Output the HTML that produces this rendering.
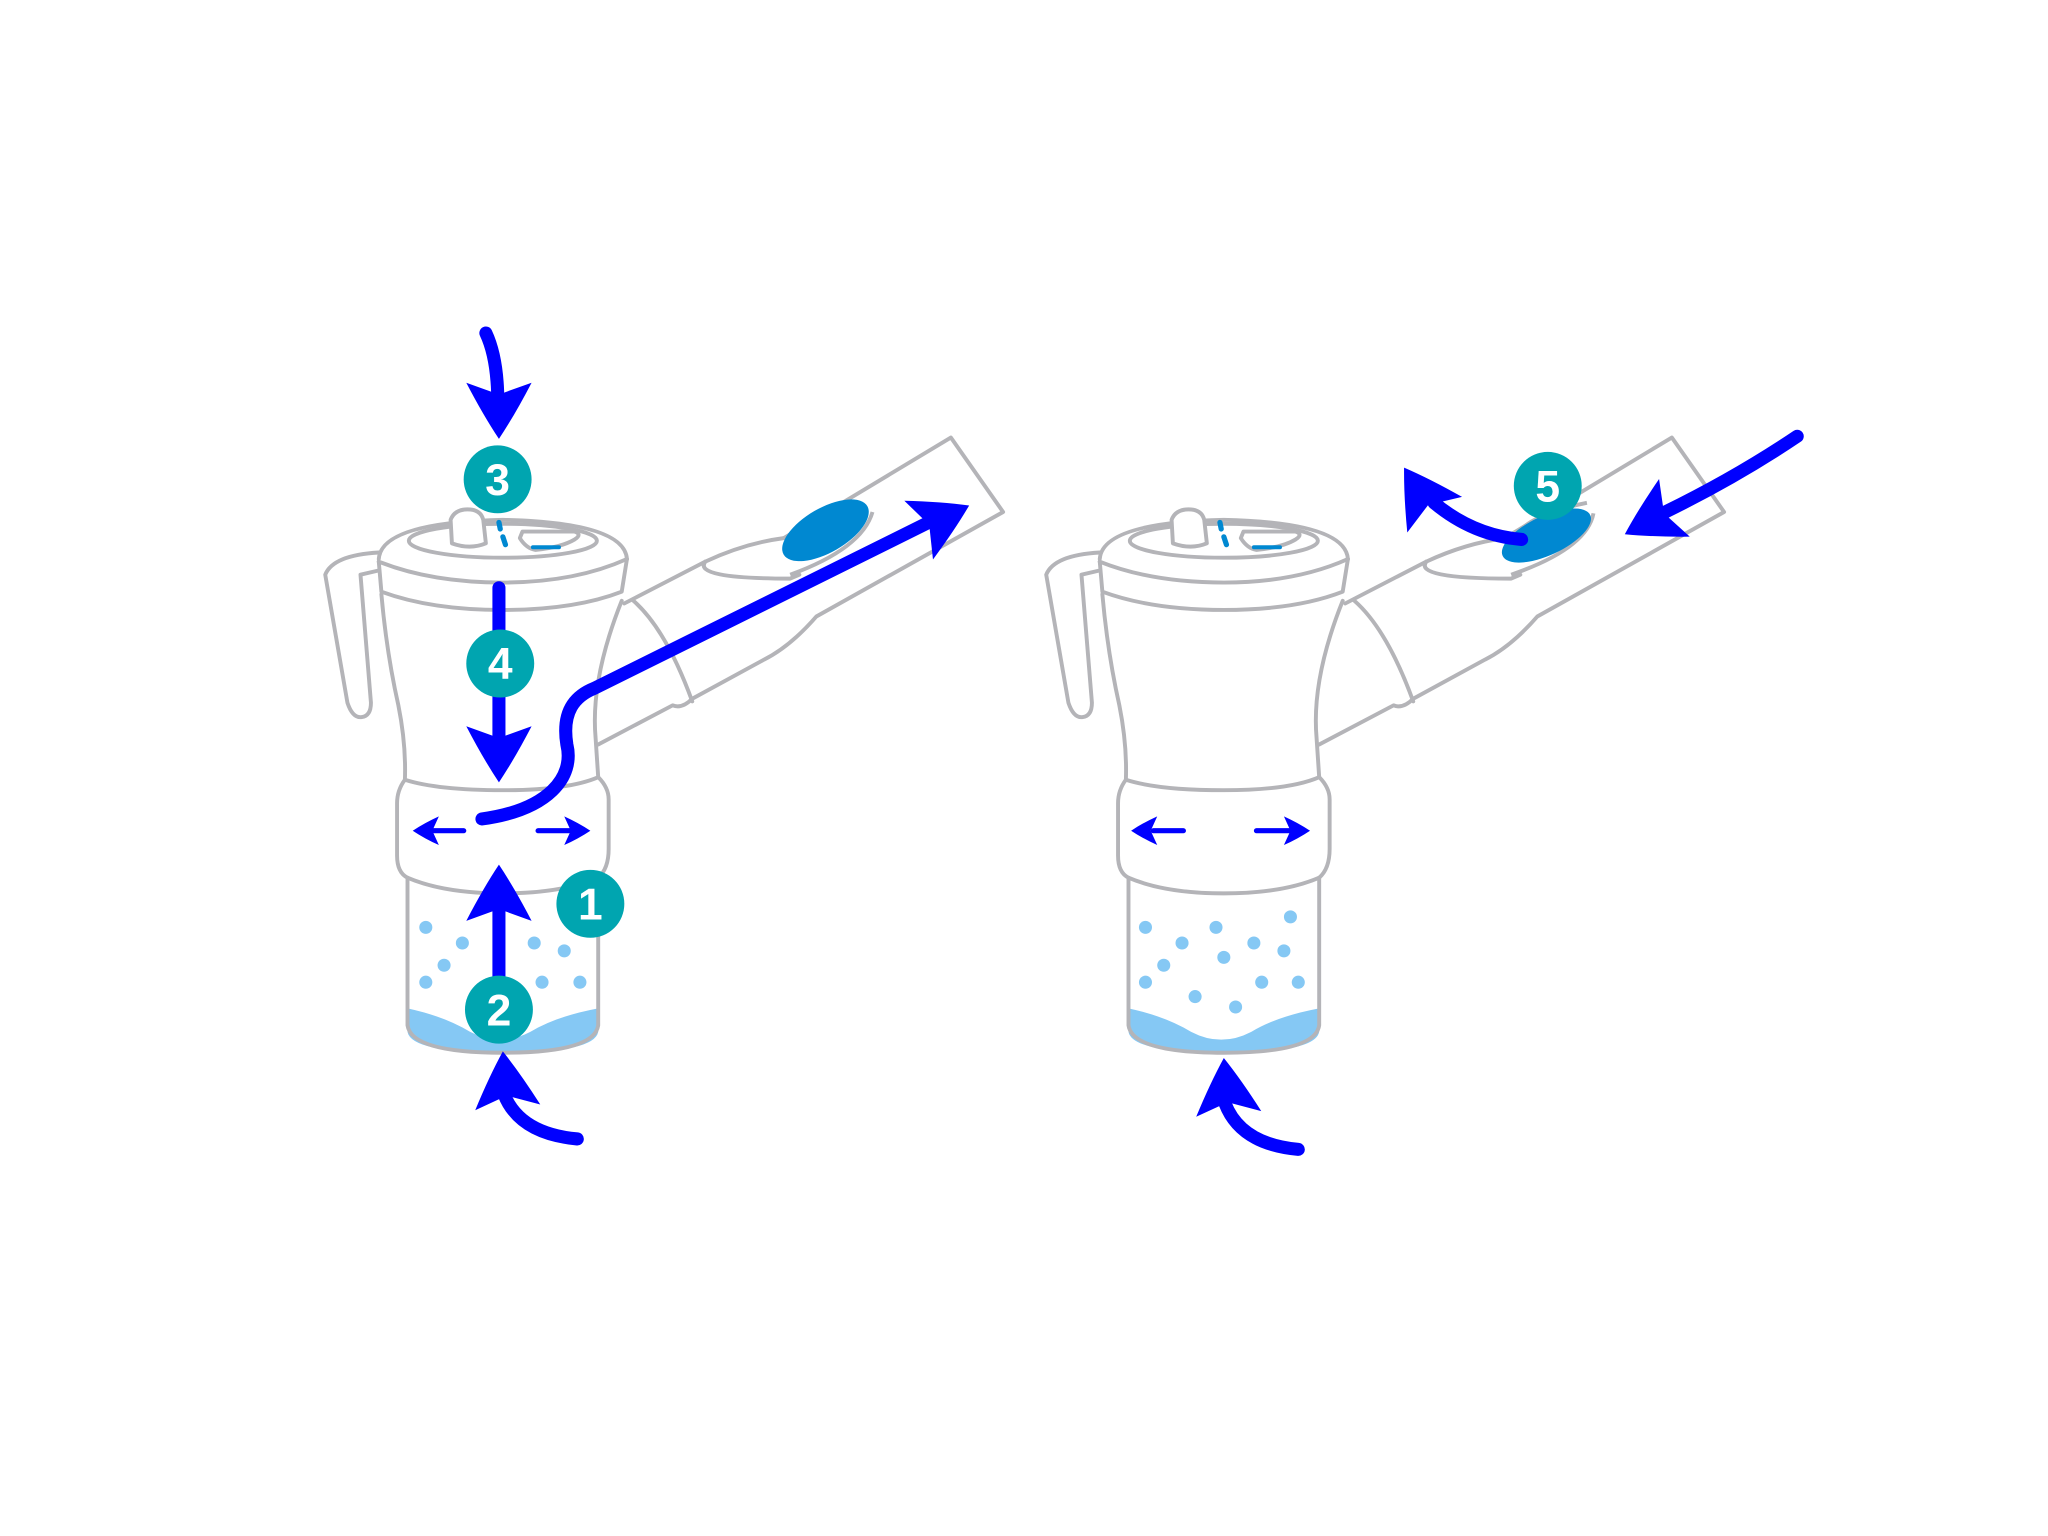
<!DOCTYPE html>
<html><head><meta charset="utf-8"><style>
html,body{margin:0;padding:0;background:#fff;width:2048px;height:1536px;overflow:hidden}
svg{display:block}
text{font-family:"Liberation Sans",sans-serif;font-weight:bold;fill:#fff;text-anchor:middle}
</style></head><body>
<svg width="2048" height="1536" viewBox="0 0 1568 1176" xmlns="http://www.w3.org/2000/svg">
<defs>
<g id="dev" fill="none" stroke="#b4b4b8" stroke-width="3" stroke-linejoin="round" stroke-linecap="round">
  <!-- water -->
  <path d="M312,772 Q340,778 360,790 Q383,802 406,790 Q426,778 458,772 L458,790 Q455,806 385,806 Q315,806 312,790 Z" fill="#85c8f4" stroke="none"/>
  <!-- lower cup -->
  <path d="M312,672 L312,785 Q315,806 385,806 Q455,806 458,785 L458,672"/>
  <!-- middle band -->
  <path d="M310,597 Q304,605 304,615 L304,655 Q304,668 312,672 Q340,684 385,684 Q430,684 458,672 Q466,665 466,650 L466,612 Q466,603 458,595"/>
  <path d="M310,597 Q335,605 385,605 Q435,605 458,595"/>
  <!-- body -->
  <path d="M292,455 Q296,500 305,540 Q311,570 310,597"/>
  <path d="M476,460 Q452,520 456,565 L458,595"/>
  <!-- cup rim -->
  <path d="M290,430 L292,453 Q330,467 385,467 Q440,467 476,453 L480,428"/>
  <path d="M290,430 Q330,446 385,446 Q440,446 480,428"/>
  <path d="M290,428 Q292,400 385,398 Q478,400 480,428"/>
  <ellipse cx="385" cy="414" rx="72" ry="13"/>
  <!-- knob -->
  <path d="M346,416 L345,398 Q348,390 358,390 Q368,390 370,398 L372,416 Q360,421 346,416 Z" fill="#fff"/>
  <!-- slot -->
  <path d="M400,407 L440,407 Q446,409 440,413 Q430,419 410,421 Q403,420 398,412 Z" fill="#fff"/>
  <line x1="408" y1="419" x2="428" y2="419" stroke="#0088d1" stroke-width="3"/>
  <line x1="382" y1="400" x2="383" y2="405" stroke="#0088d1" stroke-width="4"/>
  <line x1="385" y1="411" x2="387" y2="417" stroke="#0088d1" stroke-width="4"/>
  <!-- handle -->
  <path d="M290,423 Q255,425 249,440 L266,538 Q270,550 277,549 Q284,548 284,538 L276,440 L289,437"/>
  <!-- tube -->
  <path d="M478,462 L540,430 M600,412 L728,335 L768,392 L625,472 Q605,495 585,505 L530,535 Q522,543 515,540 L458,570"/>
  <path d="M485,460 Q510,482 530,537"/>
  <path d="M540,430 Q530,443 605,443 L612,440"/>
  <path d="M540,430 Q570,416 600,412"/>
</g>
<path id="hd" d="M0,0 Q-18,-12 -43,-25 L-34,0 L-43,25 Q-18,12 0,0 Z" fill="#0000ff"/>
<path id="hs" d="M0,0 Q-9,-6 -20,-11 L-15,0 L-20,11 Q-9,6 0,0 Z" fill="#0000ff"/>
</defs>

<use href="#dev"/>
<use href="#dev" transform="translate(552,0)"/>

<!-- left valve -->
<path d="M605,440 Q660,420 668,392" fill="none" stroke="#b4b4b8" stroke-width="3"/>
<ellipse cx="632" cy="406" rx="37" ry="17" transform="rotate(-30 632 406)" fill="#0088d1"/>
<!-- right valve -->
<path d="M1157,440 Q1215,420 1220,393" fill="none" stroke="#b4b4b8" stroke-width="3"/>
<path d="M1158,415 Q1165,395 1215,385" fill="none" stroke="#b4b4b8" stroke-width="3"/>
<ellipse cx="1184" cy="410" rx="37" ry="15" transform="rotate(-25 1184 410)" fill="#0088d1"/>

<!-- dots left -->
<g fill="#85c8f4">
<circle cx="326" cy="710" r="5"/><circle cx="354" cy="722" r="5"/><circle cx="340" cy="739" r="5"/><circle cx="326" cy="752" r="5"/>
<circle cx="409" cy="722" r="5"/><circle cx="432" cy="728" r="5"/><circle cx="415" cy="752" r="5"/><circle cx="444" cy="752" r="5"/>
<!-- right -->
<circle cx="877" cy="710" r="5"/><circle cx="905" cy="722" r="5"/><circle cx="891" cy="739" r="5"/><circle cx="877" cy="752" r="5"/>
<circle cx="931" cy="710" r="5"/><circle cx="937" cy="733" r="5"/><circle cx="960" cy="722" r="5"/><circle cx="983" cy="728" r="5"/>
<circle cx="988" cy="702" r="5"/><circle cx="966" cy="752" r="5"/><circle cx="994" cy="752" r="5"/><circle cx="915" cy="763" r="5"/><circle cx="946" cy="771" r="5"/>
</g>

<!-- arrows -->
<g fill="none" stroke="#0000ff" stroke-width="10" stroke-linecap="round">
<path d="M372,255 Q380,272 381,300"/>
<path d="M382,450 L382,565"/>
<path d="M382,748 L382,695"/>
<path d="M442,872 Q398,868 386,838"/>
<path d="M369,627 C420,620 440,595 434,570 C430,545 440,533 455,527 L715,398"/>
<path d="M994,880 Q950,876 938,845"/>
<path d="M1165,413 Q1128,410 1098,385"/>
<path d="M1376,334 Q1330,365 1275,392"/>
</g>
<g fill="none" stroke="#0000ff" stroke-width="4" stroke-linecap="round">
<path d="M355,636 L332,636"/><path d="M412,636 L436,636"/>
<path d="M906,636 L883,636"/><path d="M962,636 L987,636"/>
</g>
<use href="#hd" transform="translate(382,336) rotate(90)"/>
<use href="#hd" transform="translate(382,599) rotate(90)"/>
<use href="#hd" transform="translate(382,662) rotate(-90)"/>
<use href="#hd" transform="translate(385,805) rotate(-95)"/>
<use href="#hd" transform="translate(742,387) rotate(-26)"/>
<use href="#hd" transform="translate(937,810) rotate(-95)"/>
<use href="#hd" transform="translate(1075,358) rotate(-123)"/>
<use href="#hd" transform="translate(1244,409) rotate(152)"/>
<use href="#hs" transform="translate(316,636) rotate(180)"/>
<use href="#hs" transform="translate(452,636)"/>
<use href="#hs" transform="translate(866,636) rotate(180)"/>
<use href="#hs" transform="translate(1003,636)"/>

<!-- badges -->
<g fill="#00a5b0">
<circle cx="381" cy="367" r="26"/><circle cx="383" cy="508" r="26"/>
<circle cx="452" cy="692" r="26"/><circle cx="382" cy="773" r="26"/>
<circle cx="1185" cy="372" r="26"/>
</g>
<g font-size="34">
<text x="381" y="379">3</text><text x="383" y="520">4</text>
<text x="452" y="704">1</text><text x="382" y="785">2</text>
<text x="1185" y="384">5</text>
</g>
</svg>
</body></html>
